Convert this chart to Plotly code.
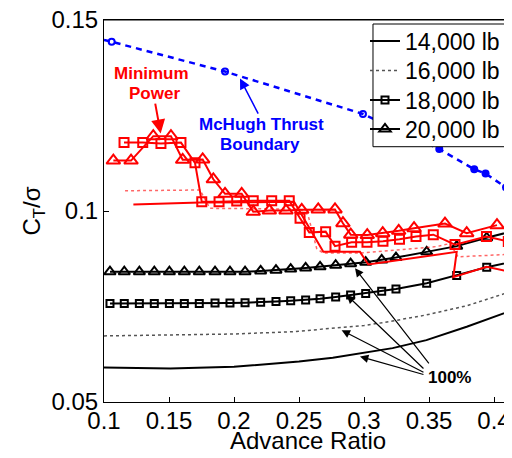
import plotly.graph_objects as go

# ---------------- data ----------------
# 100% (black) curves
mu_14k = [0.100, 0.151, 0.200, 0.225, 0.250, 0.276, 0.300, 0.322, 0.348, 0.379, 0.414]
ct_14k = [0.0590, 0.0588, 0.0592, 0.0599, 0.0606, 0.0616, 0.0628, 0.0641, 0.0662, 0.0697, 0.0740]

mu_16k = [0.100, 0.150, 0.200, 0.245, 0.276, 0.300, 0.322, 0.348, 0.379, 0.414]
ct_16k = [0.0673, 0.0675, 0.0678, 0.0684, 0.0692, 0.0700, 0.0712, 0.0728, 0.0752, 0.0790]

mu_grid = [0.1046, 0.1156, 0.1272, 0.1387, 0.1503, 0.1618, 0.1733, 0.1854, 0.1969, 0.2085,
           0.2205, 0.2323, 0.2436, 0.2551, 0.2662, 0.2782, 0.2897, 0.3013, 0.3136, 0.3246,
           0.3482, 0.3713, 0.3944, 0.4176]
ct_18k = [0.0758, 0.0758, 0.0758, 0.0758, 0.0758, 0.0758, 0.0758, 0.0759, 0.0759, 0.0760,
          0.0761, 0.0763, 0.0765, 0.0767, 0.0770, 0.0775, 0.0780, 0.0784, 0.0790, 0.0796,
          0.0811, 0.0831, 0.0853, 0.0870]
ct_20k = [0.0841, 0.0841, 0.0841, 0.0841, 0.0841, 0.0841, 0.0841, 0.0841, 0.0841, 0.0841,
          0.0843, 0.0845, 0.0848, 0.0851, 0.0854, 0.0858, 0.0862, 0.0866, 0.0872, 0.0878,
          0.0893, 0.0908, 0.0930, 0.0950]

# minimum power (red) curves
mu_mp14 = [0.1226, 0.1738, 0.2462, 0.2687, 0.2969, 0.3033, 0.3713, 0.3687, 0.3944, 0.4138]
ct_mp14 = [0.1017, 0.1022, 0.1024, 0.0893, 0.0893, 0.0860, 0.0893, 0.0827, 0.0854, 0.0840]

mu_mp16 = [0.1162, 0.1738, 0.1815, 0.2508, 0.2569, 0.2636, 0.2685, 0.2969, 0.3559, 0.3662, 0.3723, 0.4138]
ct_mp16 = [0.1053, 0.1055, 0.1007, 0.1005, 0.0990, 0.0902, 0.0890, 0.0890, 0.0907, 0.0915, 0.0880, 0.0887]

mu_mp18 = [0.1154, 0.1298, 0.1438, 0.1592, 0.1700, 0.1752, 0.1885, 0.2021, 0.2148, 0.2290,
           0.2425, 0.2508, 0.2579, 0.2705, 0.2777, 0.2905, 0.3023, 0.3146, 0.3273, 0.3400,
           0.3533, 0.3700, 0.3942, 0.4110]
ct_mp18 = [0.1179, 0.1179, 0.1177, 0.1179, 0.1126, 0.1024, 0.1024, 0.1026, 0.1027, 0.1027,
           0.1027, 0.0981, 0.0944, 0.0946, 0.0908, 0.0918, 0.0918, 0.0921, 0.0926, 0.0933,
           0.0938, 0.0912, 0.0933, 0.0920]

mu_mp20 = [0.1072, 0.1208, 0.1379, 0.1515, 0.1605, 0.1759, 0.1841, 0.1931, 0.2059, 0.2148,
           0.2272, 0.2400, 0.2521, 0.2648, 0.2777, 0.2838, 0.2898, 0.3025, 0.3144, 0.3267,
           0.3385, 0.3623, 0.3790, 0.4023]
ct_mp20 = [0.1132, 0.1132, 0.1196, 0.1196, 0.1134, 0.1135, 0.1083, 0.1045, 0.1045, 0.0998,
           0.1001, 0.1001, 0.1003, 0.1004, 0.1004, 0.0968, 0.0938, 0.0937, 0.0942, 0.0948,
           0.0955, 0.0967, 0.0942, 0.0963]

# McHugh thrust boundary
mu_mch = [0.1000, 0.1059, 0.1931, 0.2992, 0.3579, 0.3848, 0.3935, 0.4092, 0.4200]
ct_mch = [0.1448, 0.1443, 0.1365, 0.1254, 0.1162, 0.1109, 0.1098, 0.1062, 0.1037]
mu_mch_open = [0.1059, 0.1931, 0.2992, 0.4092]
ct_mch_open = [0.1443, 0.1365, 0.1254, 0.1062]
mu_mch_fill = [0.3579, 0.3848, 0.3935]
ct_mch_fill = [0.1162, 0.1109, 0.1098]

x_ticks = [0.1, 0.15, 0.2, 0.25, 0.3, 0.35, 0.4]
x_tick_text = ["0.1", "0.15", "0.2", "0.25", "0.3", "0.35", "0.4"]
y_ticks = [0.05, 0.1, 0.15]
y_tick_text = ["0.05", "0.1", "0.15"]

FONT = "Liberation Sans, Arial, sans-serif"

fig = go.Figure()

# black 100% curves (legend entries, each in its own legend row)
fig.add_trace(go.Scatter(x=mu_14k, y=ct_14k, mode="lines", name="14,000 lb", legend="legend",
                         line=dict(color="black", width=2)))
fig.add_trace(go.Scatter(x=mu_16k, y=ct_16k, mode="lines", name="16,000 lb", legend="legend2",
                         line=dict(color="#555555", width=1.5, dash="dot")))
fig.add_trace(go.Scatter(x=mu_grid, y=ct_18k, mode="lines+markers", name="18,000 lb", legend="legend3",
                         line=dict(color="black", width=2),
                         marker=dict(symbol="square-open", size=7, color="black",
                                     line=dict(width=2, color="black"))))
fig.add_trace(go.Scatter(x=mu_grid, y=ct_20k, mode="lines+markers", name="20,000 lb", legend="legend4",
                         line=dict(color="black", width=2),
                         marker=dict(symbol="triangle-up-open", size=10, color="black",
                                     line=dict(width=2, color="black"))))

# red minimum power curves
fig.add_trace(go.Scatter(x=mu_mp14, y=ct_mp14, mode="lines", showlegend=False,
                         line=dict(color="red", width=2)))
fig.add_trace(go.Scatter(x=mu_mp16, y=ct_mp16, mode="lines", showlegend=False,
                         line=dict(color="rgba(255,0,0,0.6)", width=1.5, dash="dot")))
fig.add_trace(go.Scatter(x=mu_mp18, y=ct_mp18, mode="lines+markers", showlegend=False,
                         line=dict(color="red", width=2),
                         marker=dict(symbol="square-open", size=9, color="red",
                                     line=dict(width=2, color="red"))))
fig.add_trace(go.Scatter(x=mu_mp20, y=ct_mp20, mode="lines+markers", showlegend=False,
                         line=dict(color="red", width=2),
                         marker=dict(symbol="triangle-up-open", size=12, color="red",
                                     line=dict(width=2, color="red"))))

# McHugh boundary
fig.add_trace(go.Scatter(x=mu_mch, y=ct_mch, mode="lines", showlegend=False,
                         line=dict(color="blue", width=2.5, dash="6px,5px")))
fig.add_trace(go.Scatter(x=mu_mch_open, y=ct_mch_open, mode="markers", showlegend=False,
                         marker=dict(symbol="circle-open", size=6, color="blue",
                                     line=dict(width=2, color="blue"))))
fig.add_trace(go.Scatter(x=mu_mch_fill, y=ct_mch_fill, mode="markers", showlegend=False,
                         marker=dict(symbol="circle", size=8, color="blue")))

annotations = [
    dict(x=0.13654, y=0.1360, text="<b>Minimum</b>", font=dict(color="red", size=17, family=FONT)),
    dict(x=0.1392, y=0.13076, text="<b>Power</b>", font=dict(color="red", size=17, family=FONT)),
    dict(x=0.2212, y=0.12264, text="<b>McHugh Thrust</b>", font=dict(color="blue", size=17, family=FONT)),
    dict(x=0.2202, y=0.11749, text="<b>Boundary</b>", font=dict(color="blue", size=17, family=FONT)),
    dict(x=0.3654, y=0.05654, text="<b>100%</b>", font=dict(color="black", size=17, family=FONT)),
]
for a in annotations:
    a.update(xref="x", yref="y", showarrow=False, xanchor="center", yanchor="middle")

# axis titles
annotations.append(dict(x=0.5, y=-0.1010, xref="paper", yref="paper", showarrow=False,
                        xanchor="center", yanchor="middle", text="Advance Ratio",
                        font=dict(size=24, family=FONT, color="black")))
annotations.append(dict(x=-0.175, y=0.5, xref="paper", yref="paper", showarrow=False,
                        xanchor="center", yanchor="middle", textangle=-90,
                        text="C<sub>T</sub>/σ", font=dict(size=24, family=FONT, color="black")))

arrows = [
    # (head_x, head_y, tail_x, tail_y, color, width)
    (0.1436, 0.1203, 0.1392, 0.1285, "red", 2),
    (0.2046, 0.1347, 0.2192, 0.1251, "blue", 1.5),
    (0.2931, 0.0850, 0.3508, 0.0597, "black", 1.2),
    (0.2867, 0.0780, 0.3469, 0.0584, "black", 1.2),
    (0.2828, 0.0688, 0.3469, 0.0576, "black", 1.2),
    (0.2969, 0.0619, 0.3469, 0.0571, "black", 1.2),
]
for hx, hy, tx, ty, c, w in arrows:
    annotations.append(dict(x=hx, y=hy, ax=tx, ay=ty, xref="x", yref="y", axref="x", ayref="y",
                            text="", showarrow=True, arrowhead=2, arrowsize=1.4,
                            arrowwidth=w, arrowcolor=c, standoff=0, startstandoff=0))

# plot frame top edge and legend frame (paper coordinates of the plot area)
frame_top = dict(type="line", xref="paper", yref="paper", x0=0, x1=1, y0=1, y1=1,
                 line=dict(color="black", width=1), layer="above")
legend_box = dict(type="rect", xref="paper", yref="paper",
                  x0=0.6593, x1=0.9988, y0=0.6683, y1=0.9895,
                  line=dict(color="black", width=1), fillcolor="white", layer="above")

legend_rows_y = [0.9450, 0.8678, 0.7906, 0.7147]
legend_common = dict(x=0.6397, xanchor="left", yanchor="middle", bgcolor="rgba(0,0,0,0)",
                     borderwidth=0, font=dict(size=23, family=FONT, color="black"),
                     itemwidth=30)

fig.update_layout(
    width=504, height=450,
    margin=dict(l=96, r=0, t=12, b=56, autoexpand=False),
    paper_bgcolor="white", plot_bgcolor="white",
    font=dict(family=FONT, size=24, color="black"),
    annotations=annotations,
    shapes=[frame_top, legend_box],
    legend=dict(y=legend_rows_y[0], **legend_common),
    legend2=dict(y=legend_rows_y[1], **legend_common),
    legend3=dict(y=legend_rows_y[2], **legend_common),
    legend4=dict(y=legend_rows_y[3], **legend_common),
    xaxis=dict(range=[0.1, 0.41385], tickvals=x_ticks, ticktext=x_tick_text,
               showgrid=False, zeroline=False, showline=True, linecolor="black",
               linewidth=1, mirror=True, ticks="inside", ticklen=5, tickcolor="black",
               tickfont=dict(size=24), automargin=False, ticklabelstandoff=-3,
               ticklabeloverflow="allow"),
    yaxis=dict(range=[0.05, 0.15], tickvals=y_ticks, ticktext=y_tick_text,
               showgrid=False, zeroline=False, showline=True, linecolor="black",
               linewidth=1, mirror=False, ticks="inside", ticklen=5, tickcolor="black",
               tickfont=dict(size=24), automargin=False, ticklabeloverflow="allow"),
)

fig.write_html("out.html")
